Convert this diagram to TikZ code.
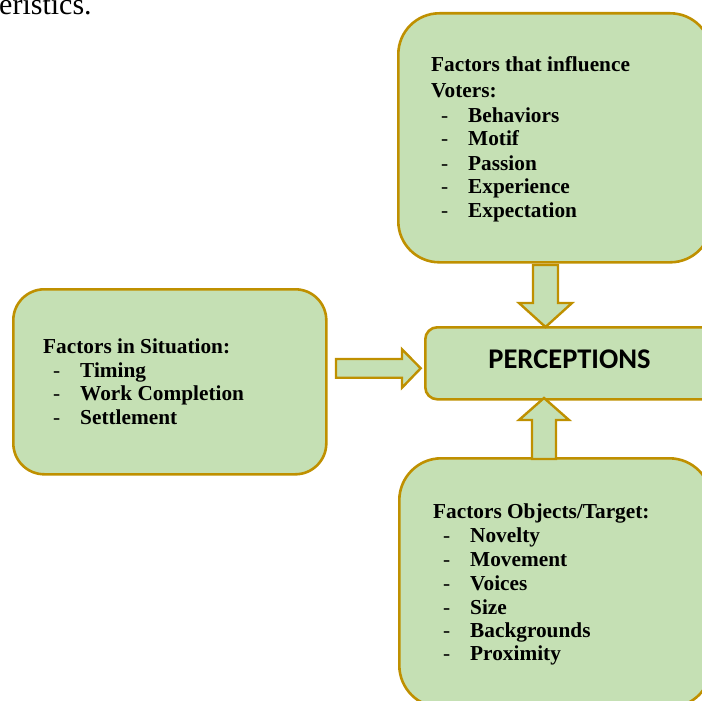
\documentclass[tikz,border=0pt]{standalone}
\usepackage{fontspec}
\setmainfont{Liberation Serif}
\newfontfamily\calibfont{Carlito}
\definecolor{boxfill}{HTML}{C5E0B4}
\definecolor{boxline}{HTML}{BF9000}
\begin{document}
\begin{tikzpicture}[x=1pt,y=-1pt,
  box/.style={draw=boxline,fill=boxfill,line width=2.6pt,inner sep=0pt,anchor=north west},
  blockarrow/.style={draw=boxline,fill=boxfill,line width=2.4pt,line join=miter},
  txt/.style={anchor=base west,inner sep=0pt,font=\bfseries\fontsize{21.3}{24}\selectfont},
  dash/.style={},
  dsh/.style={anchor=base west,inner sep=0pt,font=\fontsize{21.3}{24}\selectfont},
]
\useasboundingbox (0,0) rectangle (702,701);
\begin{scope}
\clip (0,0) rectangle (702,701);
\node[anchor=base west,inner sep=0pt,font=\fontsize{30}{36}\selectfont] (cut) at (-1,15) {eristics.};

% boxes
\node[box,rounded corners=41pt,minimum width=313pt,minimum height=249pt] (voters) at (397,12) {};
\node[box,rounded corners=31pt,minimum width=313pt,minimum height=185pt] (situation) at (12,288) {};
\node[box,rounded corners=12pt,minimum width=296pt,minimum height=72pt] (perc) at (424,326) {};
\node[box,rounded corners=42pt,minimum width=312pt,minimum height=249pt] (target) at (398,457) {};

% block arrows
\draw[blockarrow] (533,265) -- (558,265) -- (558,303) -- (572,303) -- (545.5,327) -- (519,303) -- (533,303) -- cycle;
\draw[blockarrow] (532,459) -- (556,459) -- (556,420) -- (569,420) -- (544,398) -- (519,420) -- (532,420) -- cycle;
\draw[blockarrow] (336,359) -- (402,359) -- (402,349.3) -- (420.7,368.3) -- (402,387.7) -- (402,377.7) -- (336,377.7) -- cycle;

% PERCEPTIONS
\node[anchor=base,inner sep=0pt,font=\calibfont\bfseries\fontsize{28.5}{34}\selectfont] (ptext) at (569.5,368) {PERCEPTIONS};

% top box text
\node[txt] (v0) at (431,72) {Factors that influence};
\node[txt] (v1) at (431,97) {Voters:};
\node[dsh] (vd1) at (441,122) {-};
\node[txt] (vi1) at (468,122) {Behaviors};
\node[dsh] (vd2) at (441,146) {-};
\node[txt] (vi2) at (468,146) {Motif};
\node[dsh] (vd3) at (441,170) {-};
\node[txt] (vi3) at (468,170) {Passion};
\node[dsh] (vd4) at (441,193) {-};
\node[txt] (vi4) at (468,193) {Experience};
\node[dsh] (vd5) at (441,217) {-};
\node[txt] (vi5) at (468,217) {Expectation};

% left box text
\node[txt] (s0) at (43,353) {Factors in Situation:};
\node[dsh] (sd1) at (53,377) {-};
\node[txt] (si1) at (80,377) {Timing};
\node[dsh] (sd2) at (53,400) {-};
\node[txt] (si2) at (80,400) {Work Completion};
\node[dsh] (sd3) at (53,424) {-};
\node[txt] (si3) at (80,424) {Settlement};

% bottom box text
\node[txt] (t0) at (433,518) {Factors Objects/Target:};
\node[dsh] (td1) at (443,542) {-};
\node[txt] (ti1) at (470,542) {Novelty};
\node[dsh] (td2) at (443,566) {-};
\node[txt] (ti2) at (470,566) {Movement};
\node[dsh] (td3) at (443,590) {-};
\node[txt] (ti3) at (470,590) {Voices};
\node[dsh] (td4) at (443,614) {-};
\node[txt] (ti4) at (470,614) {Size};
\node[dsh] (td5) at (443,637) {-};
\node[txt] (ti5) at (470,637) {Backgrounds};
\node[dsh] (td6) at (443,660) {-};
\node[txt] (ti6) at (470,660) {Proximity};
\end{scope}
\end{tikzpicture}
\end{document}
